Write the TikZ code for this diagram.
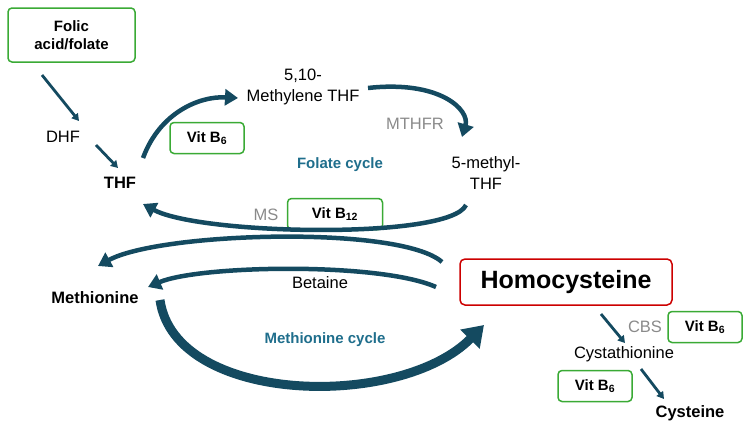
\documentclass[tikz,border=0pt]{standalone}
\usepackage{fontspec}
\setmainfont{Liberation Sans}
\usetikzlibrary{arrows.meta}
\definecolor{arr}{HTML}{144A60}
\definecolor{gbox}{HTML}{3AAA35}
\definecolor{teal}{HTML}{1F6E8C}
\definecolor{grey}{HTML}{8A8A8A}
\tikzset{
  vitbox/.style={draw=gbox,fill=white,line width=1.5pt,rounded corners=4pt,minimum width=74pt,minimum height=31pt,font=\bfseries\fontsize{15}{18}\selectfont},
  lbl/.style={font=\fontsize{16.5}{21}\selectfont},
  blbl/.style={font=\bfseries\fontsize{16.5}{21}\selectfont},
  glbl/.style={text=grey,font=\fontsize{16.5}{21}\selectfont},
  cyc/.style={text=teal,font=\bfseries\fontsize{15}{18}\selectfont},
  thin/.style={draw=arr,line width=2.8pt,-{Triangle[length=7pt,width=8pt]}},
  big/.style={draw=arr,line width=4.5pt,-{Triangle[length=13pt,width=16pt]}},
  huge/.style={draw=arr,line width=9pt,-{Triangle[length=20pt,width=26pt]}}
}
\begin{document}
\begin{tikzpicture}[x=1pt,y=-1pt]
\useasboundingbox (0,0) rectangle (750,431);
\node[vitbox,minimum width=127pt,minimum height=54pt,align=center] (folic) at (71.5,35) {Folic\\acid/folate};
\node[lbl] (dhf) at (63,137) {DHF};
\node[blbl] (thf) at (120,183) {THF};
\node[lbl,align=center] (mthf) at (303,87) {5,10-\\Methylene THF};
\node[glbl] (mthfr) at (415,124) {MTHFR};
\node[lbl,align=center] (five) at (486,173) {5-methyl-\\THF};
\node[cyc] (fc) at (340,165) {Folate cycle};
\node[vitbox] (v1) at (207,138) {Vit B\textsubscript{6}};
\node[glbl] (ms) at (266,215) {MS};
\node[vitbox,minimum width=95pt] (v2) at (335,214) {Vit B\textsubscript{12}};
\node[draw=red!80!black,line width=1.5pt,rounded corners=5pt,minimum width=212pt,minimum height=46pt,font=\bfseries\fontsize{25}{28}\selectfont] (hcy) at (566,282) {Homocysteine};
\node[blbl] (met) at (95,298) {Methionine};
\node[lbl] (bet) at (320,283) {Betaine};
\node[cyc] (mc) at (325,340) {Methionine cycle};
\node[glbl] (cbs) at (645,327) {CBS};
\node[vitbox] (v3) at (705,327) {Vit B\textsubscript{6}};
\node[lbl] (cys) at (624,354) {Cystathionine};
\node[vitbox] (v4) at (595,386) {Vit B\textsubscript{6}};
\node[blbl] (cyst) at (690,413) {Cysteine};
% thin arrows
\coordinate (a1) at (42,75); \coordinate (a2) at (79,121);
\draw[thin] (a1) -- (a2);
\coordinate (b1) at (96,145); \coordinate (b2) at (118,168);
\draw[thin] (b1) -- (b2);
\coordinate (c1) at (601,314); \coordinate (c2) at (625,343);
\draw[thin] (c1) -- (c2);
\coordinate (d1) at (641,369); \coordinate (d2) at (664,399);
\draw[thin] (d1) -- (d2);
% curved arrows
\coordinate (e1) at (143,158); \coordinate (e2) at (238,98);
\draw[big] (e1) .. controls (160,112) and (200,96) .. (e2);
\coordinate (f1) at (368,88); \coordinate (f2) at (462,137);
\draw[big] (f1) .. controls (440,80) and (470,110) .. (f2);
\coordinate (g1) at (466,205); \coordinate (g2) at (143,204);
\draw[big] (g1) .. controls (450,240) and (200,235) .. (g2);
\coordinate (h1) at (442,262); \coordinate (h2) at (98,266);
\draw[big] (h1) .. controls (400,225) and (160,232) .. (h2);
\coordinate (i1) at (436,287); \coordinate (i2) at (148,287);
\draw[big] (i1) .. controls (380,262) and (200,265) .. (i2);
\coordinate (j1) at (160,300); \coordinate (j2) at (484,325);
\draw[huge] (j1) .. controls (175,405) and (400,410) .. (j2);
\end{tikzpicture}
\end{document}
